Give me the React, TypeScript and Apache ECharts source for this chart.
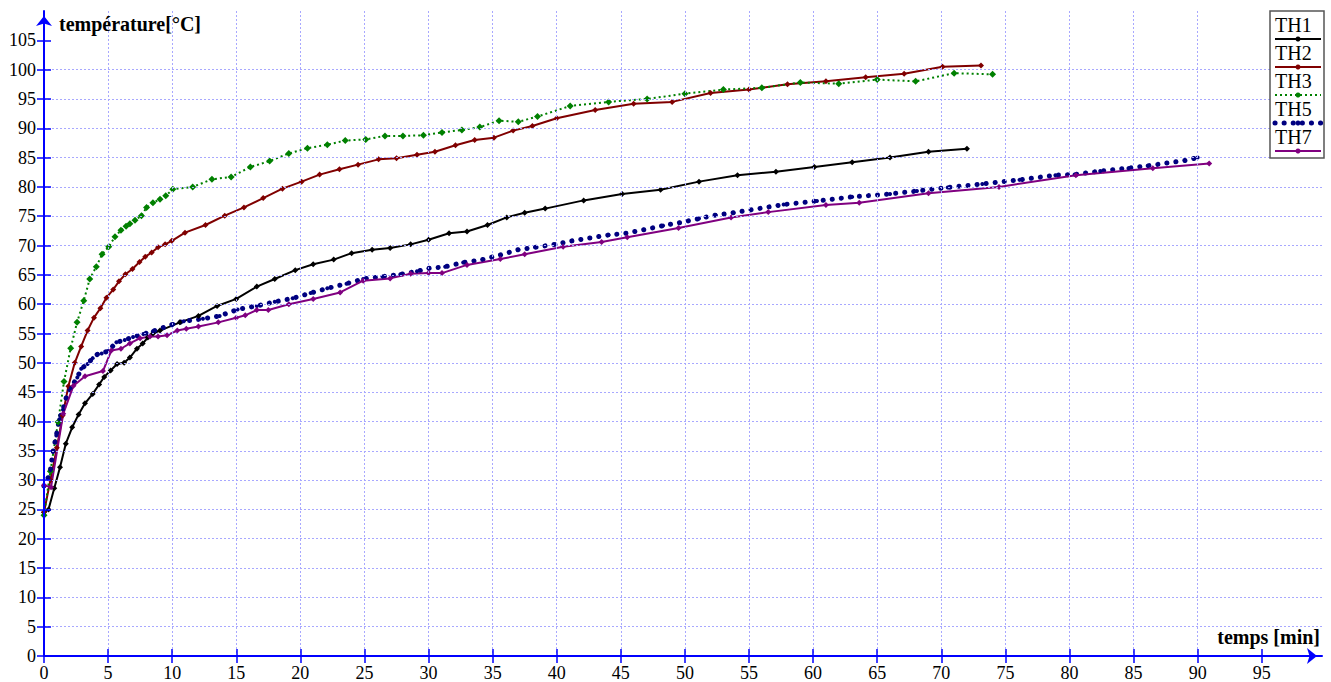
import React, { useEffect, useRef } from "react";
import * as echarts from "echarts";

// ---- Data (time in minutes, temperature in °C) ----
const xTicks = [0, 5, 10, 15, 20, 25, 30, 35, 40, 45, 50, 55, 60, 65, 70, 75, 80, 85, 90, 95];
const yTicks = [0, 5, 10, 15, 20, 25, 30, 35, 40, 45, 50, 55, 60, 65, 70, 75, 80, 85, 90, 95, 100, 105];

const tTH1 = [0, 0.35, 0.8, 1.25, 1.7, 2.2, 2.7, 3.2, 3.8, 4.3, 4.7, 5.2, 5.7, 6.25, 6.7, 7.25, 7.7, 8.1, 8.5, 9.05, 10.6, 12.05, 13.5, 15.0, 16.6, 18.0, 19.6, 21.0, 22.6, 24.0, 25.6, 27.0, 28.6, 30.0, 31.6, 33.0, 34.6, 36.1, 37.5, 39.1, 42.1, 45.1, 48.1, 51.1, 54.1, 57.1, 60.1, 63.05, 66.0, 69.0, 72.0];
const vTH1 = [24.5, 25, 28.6, 32.2, 36.2, 39, 41.2, 43.1, 44.7, 46.3, 47.6, 48.7, 49.8, 50, 50.9, 52.4, 53.3, 54.3, 55, 55.5, 56.9, 58.0, 59.7, 60.9, 63.0, 64.3, 65.8, 66.8, 67.6, 68.7, 69.3, 69.6, 70.2, 71.0, 72.1, 72.4, 73.5, 74.8, 75.6, 76.3, 77.7, 78.8, 79.5, 80.9, 82.0, 82.6, 83.4, 84.2, 85.0, 86.0, 86.5];

const tTH2 = [0, 0.5, 1.0, 1.45, 1.9, 2.4, 2.9, 3.4, 3.9, 4.4, 4.87, 5.4, 5.85, 6.35, 6.9, 7.45, 7.9, 8.4, 8.9, 9.45, 9.97, 11.0, 12.6, 14.1, 15.6, 17.1, 18.6, 20.1, 21.5, 23.05, 24.5, 26.1, 27.5, 29.1, 30.5, 32.1, 33.6, 35.1, 36.6, 38.1, 40.0, 43.0, 46.0, 49.0, 52.0, 55.0, 58.0, 61.0, 64.1, 67.1, 70.1, 73.1];
const vTH2 = [24.5, 30, 35.5, 41, 46, 50, 52.8, 55.5, 57.7, 59.3, 61.1, 62.5, 63.9, 65.1, 66.0, 67.2, 68.1, 68.8, 69.7, 70.2, 70.8, 72.2, 73.5, 75.1, 76.5, 78.1, 79.7, 80.9, 82.1, 83.0, 83.8, 84.7, 84.9, 85.5, 86.0, 87.1, 88.0, 88.4, 89.6, 90.4, 91.7, 93.1, 94.2, 94.5, 96.0, 96.6, 97.5, 98.0, 98.7, 99.3, 100.5, 100.7];

const tTH3 = [0, 0.5, 1.1, 1.56, 2.08, 2.58, 3.1, 3.57, 4.08, 4.53, 5.05, 5.54, 6.0, 6.4, 6.7, 7.1, 7.6, 8.0, 8.5, 9.05, 9.5, 10.05, 11.6, 13.1, 14.6, 16.1, 17.6, 19.1, 20.55, 22.1, 23.5, 25.1, 26.6, 28.0, 29.6, 31.05, 32.6, 34.0, 35.5, 37.0, 38.5, 41.05, 44.05, 47.05, 50.0, 53.0, 56.0, 59.0, 62.0, 65.0, 68.0, 71.0, 74.0];
const vTH3 = [24, 31.5, 39.9, 46.8, 52.5, 56.9, 60.6, 64.3, 66.4, 68.5, 69.8, 71.5, 72.6, 73.3, 73.7, 74.3, 75.1, 76.5, 77.3, 77.9, 78.5, 79.6, 80.0, 81.3, 81.7, 83.4, 84.4, 85.7, 86.6, 87.2, 87.9, 88.1, 88.7, 88.7, 88.8, 89.3, 89.7, 90.2, 91.3, 91.1, 92.0, 93.8, 94.5, 95.0, 95.9, 96.6, 96.9, 97.8, 97.6, 98.3, 98.0, 99.4, 99.2];

const tTH5 = [0, 0.3, 0.5, 0.7, 0.96, 1.2, 1.48, 1.74, 2.08, 2.6, 2.9, 3.4, 3.8, 4.2, 4.5, 5.0, 5.65, 6.3, 6.95, 7.75, 8.5, 9.3, 10.1, 10.9, 12.4, 13.7, 15.1, 16.6, 18.0, 19.4, 20.8, 22.1, 23.6, 24.9, 26.4, 27.8, 29.1, 30.0, 31.3, 32.7, 34.2, 35.6, 37.0, 38.3, 39.9, 41.2, 42.6, 44.05, 45.4, 46.8, 48.3, 49.6, 51.1, 52.4, 53.8, 57.7, 60.3, 63.05, 66.0, 68.1, 70.5, 73.2, 76.1, 78.9, 80.4, 82.4, 84.6, 86.1, 89.0, 90.0];
const vTH5 = [29, 30.3, 31.7, 34.8, 37.6, 40.4, 42.0, 44.1, 45.7, 47.5, 49.0, 49.8, 50.8, 51.5, 51.6, 52.0, 53.5, 53.9, 54.4, 54.9, 55.4, 56.0, 56.6, 57.1, 57.5, 58.0, 59.1, 59.7, 60.4, 61.0, 61.9, 62.7, 63.5, 64.3, 64.7, 65.1, 65.6, 66.1, 66.4, 67.1, 67.6, 68.4, 69.3, 69.7, 70.2, 70.8, 71.3, 71.8, 72.1, 72.7, 73.4, 73.9, 74.6, 75.2, 75.6, 77.0, 77.6, 78.3, 78.8, 79.3, 79.9, 80.5, 81.2, 82.0, 82.1, 82.7, 83.2, 83.6, 84.5, 85.0];

const tTH7 = [0, 0.55, 1.5, 2.3, 3.2, 4.6, 5.25, 6.0, 6.7, 7.5, 8.27, 8.9, 9.6, 10.4, 11.1, 12.05, 13.6, 15.0, 15.7, 16.6, 17.5, 19.1, 21.0, 23.1, 24.9, 27.0, 28.6, 30.0, 31.05, 33.0, 35.6, 37.5, 40.5, 43.5, 45.5, 49.5, 53.6, 56.5, 61.0, 63.6, 69.0, 74.5, 80.5, 86.5, 90.9];
const vTH7 = [29.1, 28.8, 41.3, 46.1, 47.7, 48.6, 52.1, 52.4, 53.3, 54.2, 54.5, 54.5, 54.7, 55.5, 55.8, 56.2, 56.9, 57.7, 58.1, 59.0, 59.0, 60.0, 60.9, 62.0, 64.0, 64.4, 65.2, 65.3, 65.3, 66.7, 67.7, 68.5, 69.8, 70.6, 71.4, 73.0, 74.8, 75.7, 76.9, 77.3, 78.9, 80.0, 82.0, 83.2, 84.0];

const seriesNames = ["TH1", "TH2", "TH3", "TH5", "TH7"];
const seriesColors = ["#000000", "#800000", "#008000", "#000080", "#800080"];

const FONT = '"Liberation Serif", "Times New Roman", serif';
const AXIS_BLUE = "#0000ff";
const GRID_COLOR = "#a8a8ff";

const zip = (t: number[], v: number[]) => t.map((x, i) => [x, v[i]]);

export default function App() {
  const ref = useRef<HTMLDivElement>(null);

  useEffect(() => {
    if (!ref.current) return;
    const chart = echarts.init(ref.current, undefined, { renderer: "svg" });

    const styles: any[] = [
      { lineStyle: { width: 2, type: "solid" }, symbol: "diamond", symbolSize: 6 },
      { lineStyle: { width: 2, type: "solid" }, symbol: "diamond", symbolSize: 6 },
      { lineStyle: { width: 2, type: [2, 3] }, symbol: "diamond", symbolSize: 7 },
      { lineStyle: { width: 5, type: [0.1, 9], cap: "round" }, symbol: "circle", symbolSize: 4 },
      { lineStyle: { width: 2, type: "solid" }, symbol: "diamond", symbolSize: 6 },
    ];
    const datas = [zip(tTH1, vTH1), zip(tTH2, vTH2), zip(tTH3, vTH3), zip(tTH5, vTH5), zip(tTH7, vTH7)];

    const series = seriesNames.map((name, i) => ({
      name,
      type: "line",
      data: datas[i],
      showSymbol: true,
      symbol: styles[i].symbol,
      symbolSize: styles[i].symbolSize,
      itemStyle: { color: seriesColors[i] },
      lineStyle: { color: seriesColors[i], ...styles[i].lineStyle },
      z: 3,
    }));

    // legend drawn as graphic (text above line sample)
    const legendEls: any[] = [
      {
        type: "rect",
        shape: { x: 1270, y: 11, width: 54, height: 147 },
        style: { fill: "#ffffff", stroke: "#555555", lineWidth: 1.5 },
        z: 100,
      },
    ];
    seriesNames.forEach((name, i) => {
      const ly = 39 + 28 * i;
      legendEls.push({
        type: "text",
        x: 1275,
        y: 15 + 28 * i,
        style: { text: name, font: `20px ${FONT}`, fill: "#000", verticalAlign: "top", align: "left" },
        z: 101,
      });
      const ls = styles[i].lineStyle;
      legendEls.push({
        type: "line",
        shape: { x1: 1275, y1: ly, x2: 1321, y2: ly },
        style: {
          stroke: seriesColors[i],
          lineWidth: ls.width,
          lineDash: Array.isArray(ls.type) ? ls.type : null,
          lineCap: ls.cap || "butt",
        },
        z: 101,
      });
      legendEls.push({
        type: "circle",
        shape: { cx: 1298, cy: ly, r: 2.5 },
        style: { fill: seriesColors[i] },
        z: 102,
      });
    });

    const xBase = {
      type: "value",
      min: 0,
      max: 99.7,
      interval: 5,
      gridIndex: 0,
    };
    const yBase = {
      type: "value",
      min: 0,
      max: 110,
      interval: 5,
      gridIndex: 0,
    };

    chart.setOption({
      animation: false,
      backgroundColor: "#ffffff",
      grid: { left: 44, right: 9, top: 11, bottom: 26, containLabel: false },
      xAxis: [
        {
          ...xBase,
          position: "bottom",
          axisLine: {
            show: true,
            onZero: false,
            lineStyle: { color: AXIS_BLUE, width: 2 },
            symbol: ["none", "arrow"],
            symbolSize: [12, 10],
            symbolOffset: [0, -5],
          },
          axisTick: {
            show: true,
            length: 7,
            lineStyle: { color: AXIS_BLUE, width: 1.5 },
            customValues: xTicks,
          },
          axisLabel: {
            show: true,
            color: "#000",
            fontFamily: FONT,
            fontSize: 18,
            margin: 8,
            customValues: xTicks,
          },
          splitLine: {
            show: true,
            showMinLine: false,
            showMaxLine: false,
            lineStyle: { color: GRID_COLOR, width: 1, type: [2, 2] },
          },
          z: 5,
        },
        {
          ...xBase,
          position: "bottom",
          axisLine: { show: false, onZero: false },
          axisTick: {
            show: true,
            inside: true,
            length: 7,
            lineStyle: { color: AXIS_BLUE, width: 1.5 },
            customValues: xTicks,
          },
          axisLabel: { show: false },
          splitLine: { show: false },
          z: 5,
        },
      ],
      yAxis: [
        {
          ...yBase,
          position: "left",
          axisLine: {
            show: true,
            onZero: false,
            lineStyle: { color: AXIS_BLUE, width: 2 },
            symbol: ["none", "arrow"],
            symbolSize: [12, 10],
            symbolOffset: [0, -5],
          },
          axisTick: {
            show: true,
            length: 7,
            lineStyle: { color: AXIS_BLUE, width: 1.5 },
            customValues: yTicks,
          },
          axisLabel: {
            show: true,
            color: "#000",
            fontFamily: FONT,
            fontSize: 18,
            margin: 8,
            customValues: yTicks,
          },
          splitLine: {
            show: true,
            showMinLine: false,
            showMaxLine: false,
            lineStyle: { color: GRID_COLOR, width: 1, type: [2, 2] },
          },
          z: 5,
        },
        {
          ...yBase,
          position: "left",
          axisLine: { show: false, onZero: false },
          axisTick: {
            show: true,
            inside: true,
            length: 7,
            lineStyle: { color: AXIS_BLUE, width: 1.5 },
            customValues: yTicks,
          },
          axisLabel: { show: false },
          splitLine: { show: false },
          z: 5,
        },
      ],
      graphic: [
        {
          type: "text",
          x: 59,
          y: 14,
          style: {
            text: "température[°C]",
            font: `bold 20px ${FONT}`,
            fill: "#000",
            verticalAlign: "top",
          },
          z: 100,
        },
        {
          type: "text",
          x: 1320,
          y: 627,
          style: {
            text: "temps [min]",
            font: `bold 20px ${FONT}`,
            fill: "#000",
            align: "right",
            verticalAlign: "top",
          },
          z: 100,
        },
        ...legendEls,
      ],
      series,
    });

    return () => chart.dispose();
  }, []);

  return (
    <div
      ref={ref}
      style={{ position: "absolute", left: 0, top: 0, width: 1331, height: 682 }}
    />
  );
}
